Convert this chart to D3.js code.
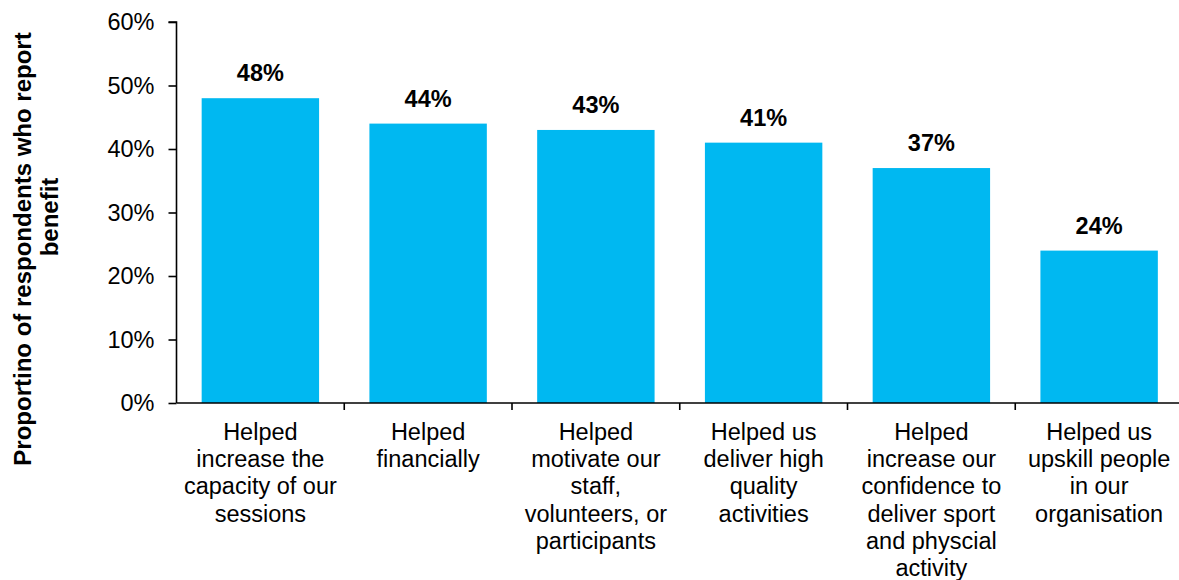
<!DOCTYPE html>
<html>
<head>
<meta charset="utf-8">
<script src="https://cdn.jsdelivr.net/npm/d3@7"></script>
<style>
  html, body { margin: 0; padding: 0; background: #fff; }
  svg { display: block; font-family: "Liberation Sans", Arial, sans-serif; }
</style>
</head>
<body>
<svg id="chart" width="1179" height="580"></svg>
<script>
// Benefits reported by respondents
const categories = [
  "Helped increase the capacity of our sessions",
  "Helped financially",
  "Helped motivate our staff, volunteers, or participants",
  "Helped us deliver high quality activities",
  "Helped increase our confidence to deliver sport and physcial activity",
  "Helped us upskill people in our organisation"
];
const categoryLines = [
  ["Helped", "increase the", "capacity of our", "sessions"],
  ["Helped", "financially"],
  ["Helped", "motivate our", "staff,", "volunteers, or", "participants"],
  ["Helped us", "deliver high", "quality", "activities"],
  ["Helped", "increase our", "confidence to", "deliver sport", "and physcial", "activity"],
  ["Helped us", "upskill people", "in our", "organisation"]
];
const values = [0.48, 0.44, 0.43, 0.41, 0.37, 0.24];
const yTicks = [0, 0.1, 0.2, 0.3, 0.4, 0.5, 0.6];
const yTitleLines = ["Proportino of respondents who report", "benefit"];

const svg = d3.select("#chart");
const plotLeft = 176.5, plotRight = 1183, plotTop = 22, plotBottom = 403;
const fontSize = 23.5;

const x = d3.scaleBand()
  .domain(categories)
  .range([plotLeft, plotRight])
  .paddingInner(0.3)
  .paddingOuter(0.15);

const y = d3.scaleLinear().domain([0, 0.6]).range([plotBottom, plotTop]);

// Bars
svg.append("g").selectAll("rect")
  .data(values)
  .join("rect")
  .attr("x", (d, i) => x(categories[i]))
  .attr("y", d => y(d))
  .attr("width", x.bandwidth())
  .attr("height", d => y(0) - y(d))
  .attr("fill", "#00B8F1");

// Value labels
svg.append("g").selectAll("text")
  .data(values)
  .join("text")
  .attr("x", (d, i) => x(categories[i]) + x.bandwidth() / 2)
  .attr("y", d => y(d) - 17)
  .attr("text-anchor", "middle")
  .attr("font-size", fontSize)
  .attr("font-weight", "bold")
  .attr("fill", "#000")
  .text(d => d3.format(".0%")(d));

// Y axis
const yAxis = svg.append("g")
  .attr("transform", `translate(${plotLeft},0)`)
  .call(d3.axisLeft(y).tickValues(yTicks).tickFormat(d3.format(".0%")).tickSize(8).tickPadding(14));
yAxis.select(".domain").attr("stroke", "#000").attr("stroke-width", 1.6)
  .attr("d", `M-8,${plotTop}H0V${plotBottom}`);
yAxis.selectAll(".tick line").attr("stroke", "#000").attr("stroke-width", 1.6);
yAxis.selectAll(".tick text").attr("font-size", fontSize).attr("fill", "#000")
  .attr("font-family", "Liberation Sans, Arial, sans-serif");

// X axis baseline with ticks between categories
const xAxis = svg.append("g").attr("transform", `translate(0,${plotBottom})`);
xAxis.append("line")
  .attr("x1", plotLeft).attr("x2", 1179)
  .attr("stroke", "#000").attr("stroke-width", 1.6);
const step = x.step();
const boundaries = categories.slice(1).map(c => x(c) - x.paddingInner() * step / 2);
xAxis.selectAll("line.tick")
  .data(boundaries)
  .join("line")
  .attr("class", "tick")
  .attr("x1", d => d).attr("x2", d => d)
  .attr("y1", 0).attr("y2", 7)
  .attr("stroke", "#000").attr("stroke-width", 1.6);

// Category labels
const lineH = 27.2;
const labels = svg.append("g");
categoryLines.forEach((lines, i) => {
  const cx = x(categories[i]) + x.bandwidth() / 2;
  const t = labels.append("text")
    .attr("text-anchor", "middle")
    .attr("font-size", fontSize)
    .attr("fill", "#000");
  lines.forEach((ln, j) => {
    t.append("tspan")
      .attr("x", cx)
      .attr("y", 440 + j * lineH)
      .text(ln);
  });
});

// Y axis title, two rotated lines
const titleCentersY = [249, 217];
yTitleLines.forEach((ln, i) => {
  svg.append("text")
    .attr("transform", `translate(${31 + i * 26.8},${titleCentersY[i]}) rotate(-90)`)
    .attr("text-anchor", "middle")
    .attr("font-size", 24)
    .attr("font-weight", "bold")
    .attr("fill", "#000")
    .text(ln);
});
</script>
</body>
</html>
